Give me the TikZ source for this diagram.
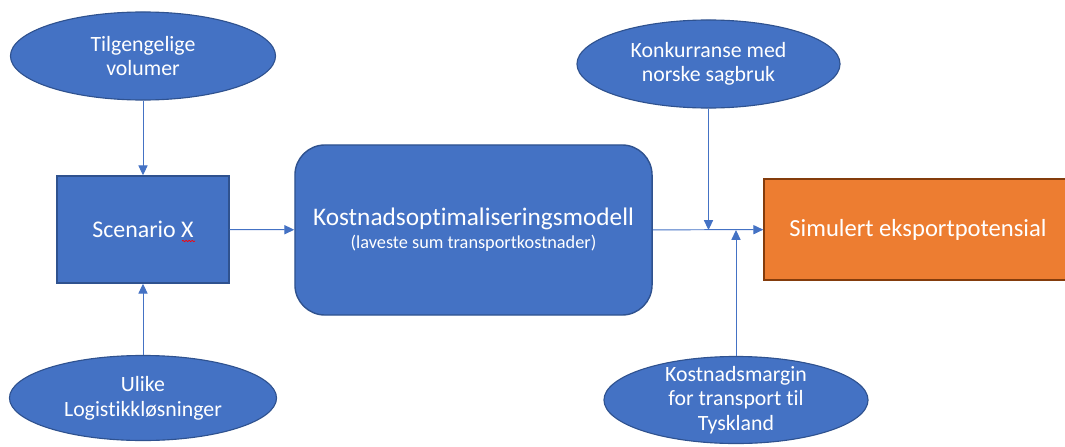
\documentclass[tikz,border=0pt]{standalone}
\usepackage{fontspec}
\setmainfont{Carlito}[Ligatures=CommonOff]
\usetikzlibrary{shapes.geometric}
\usetikzlibrary{arrows.meta}
\usetikzlibrary{decorations.pathmorphing}
\definecolor{officeblue}{HTML}{4472C4}
\definecolor{blueedge}{HTML}{2F528F}
\definecolor{officeorange}{HTML}{ED7D31}
\definecolor{orangeedge}{HTML}{843C0C}
\tikzset{
  oval/.style={ellipse, draw=blueedge, fill=officeblue, line width=0.8pt, text=white,
    align=center, inner xsep=0pt, inner ysep=-10pt, font=\fontsize{15.5}{17.5}\selectfont},
  box/.style={rectangle, draw=blueedge, fill=officeblue, line width=1pt, text=white,
    align=center, inner sep=0pt},
  link/.style={draw=officeblue, line width=0.7pt, -{Triangle[length=7pt,width=6.5pt]}}
}

\begin{document}
\begin{tikzpicture}[x=0.025cm, y=-0.025cm]
                \useasboundingbox (0,0) rectangle (1065,447);

                % Scenario with its two inputs
                \node[oval, minimum width=6.625cm, minimum height=2.2cm] (vol) at (143,56) {Tilgengelige\\volumer};
                \node[box, minimum width=4.3cm, minimum height=2.675cm, font=\fontsize{17}{20}\selectfont] (scen) at (143,229.5) {Scenario X};
                \draw[red, line width=0.5pt, decorate, decoration={snake, amplitude=0.5pt, segment length=2.2pt}] (182,241) -- (195,241);
                \node[oval, minimum width=6.675cm, minimum height=2.125cm] (logi) at (143,398) {Ulike\\Logistikkløsninger};

                % Model
                \node[box, rounded corners=0.75cm, minimum width=8.925cm, minimum height=4.25cm] (model) at (473.5,230)
                  {{\fontsize{18}{21}\selectfont Kostnadsoptimaliseringsmodell}\\[3pt]{\fontsize{13}{15}\selectfont (laveste sum transportkostnader)}};

                % Conditions on the result
                \node[oval, minimum width=6.575cm, minimum height=2.2cm] (konk) at (708.5,64) {Konkurranse med\\norske sagbruk};
                \node[oval, minimum width=6.6cm, minimum height=2.175cm] (marg) at (736,400) {Kostnadsmargin\\for transport til\\Tyskland};

                % Result
                \node[box, draw=orangeedge, fill=officeorange, minimum width=7.7cm, minimum height=2.525cm,
                  font=\fontsize{17.5}{20}\selectfont] (sim) at (918,229.5) {Simulert eksportpotensial};

                % Arrows
                \draw[link] (vol) -- (scen);
                \draw[link] (logi) -- (scen);
                \draw[link] (scen) -- (model);
                \draw[link] (model) -- (sim);
                \draw[link] (konk) -- (konk.south |- model.east);
                \draw[link] (marg) -- (marg.north |- model.east);
            \end{tikzpicture}
\end{document}
